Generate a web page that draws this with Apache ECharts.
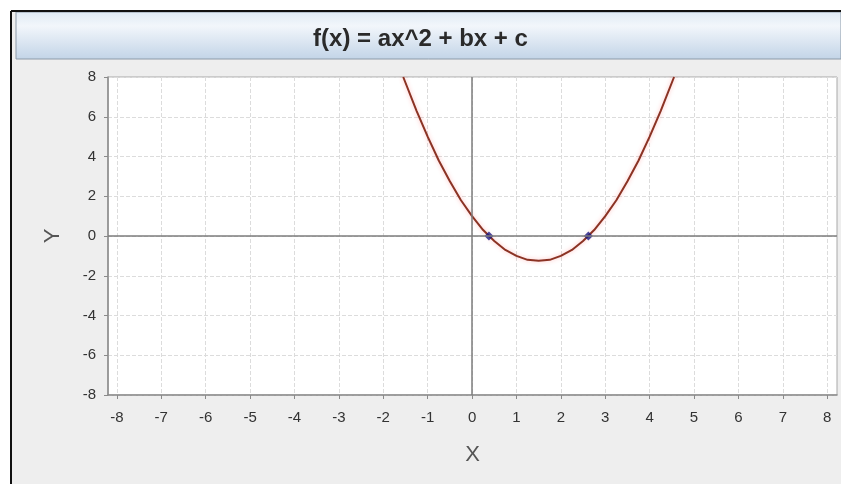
<html>
<head>
  <script src="https://cdn.jsdelivr.net/npm/echarts@6/dist/echarts.min.js"></script>
  <title>f(x) = ax^2 + bx + c</title>
</head>
<body style="margin: 0; background: #fff;">
  <div id="main" style="width: 841px; height: 484px;"></div>
  <script>
    // points
    var curveX = [-1.55, -1.25, -1.0, -0.75, -0.5, -0.25, 0, 0.25, 0.5, 0.75, 1.0, 1.25, 1.5,
                  1.75, 2.0, 2.25, 2.5, 2.75, 3.0, 3.25, 3.5, 3.75, 4.0, 4.25, 4.55];
    var curveY = [8.0, 6.3, 5.0, 3.8, 2.75, 1.8, 1.0, 0.3, -0.25, -0.7, -1.0, -1.2, -1.25,
                  -1.2, -1.0, -0.7, -0.25, 0.3, 1.0, 1.8, 2.75, 3.8, 5.0, 6.3, 8.0];
    var rootX = [0.38, 2.62];
    var rootY = [0, 0];
    var xTicks = [-8, -7, -6, -5, -4, -3, -2, -1, 0, 1, 2, 3, 4, 5, 6, 7, 8];

    var myChart = echarts.init(document.getElementById('main'));

    var curveData = [];
    for (let i = 0; i < curveX.length; ++i) {
      curveData.push([curveX[i], curveY[i]]);
    }
    var rootData = [];
    for (let i = 0; i < rootX.length; ++i) {
      rootData.push([rootX[i], rootY[i]]);
    }

    var labelFont = {color: '#333', fontSize: 15, fontFamily: 'Liberation Sans'};

    var option = {
      animation: false,
      backgroundColor: '#fff',
      graphic: [
        {type: 'rect', z: -10, shape: {x: 11, y: 11, width: 830, height: 473},
         style: {fill: '#eeeeee'}},
        {type: 'rect', z: -9, shape: {x: 16, y: 12, width: 825, height: 47},
         style: {
           fill: new echarts.graphic.LinearGradient(0, 0, 0, 1, [
             {offset: 0, color: '#dfeaf5'},
             {offset: 0.3, color: '#f2f6fb'},
             {offset: 1, color: '#c2d4e7'}
           ]),
           stroke: '#8d9aa8', lineWidth: 1
         }},
        {type: 'line', z: -8, shape: {x1: 11, y1: 11, x2: 11, y2: 484},
         style: {stroke: '#111', lineWidth: 2}},
        {type: 'line', z: -8, shape: {x1: 11, y1: 11, x2: 841, y2: 11},
         style: {stroke: '#111', lineWidth: 2}}
      ],
      title: {
        text: 'f(x) = ax^2 + bx + c',
        left: 'center',
        top: 14,
        textStyle: {color: '#2a2a2a', fontSize: 24, fontWeight: 'bold', fontFamily: 'Liberation Sans'}
      },
      grid: {
        left: 108, right: 4, top: 77, bottom: 89,
        show: true, backgroundColor: '#fff', borderColor: '#a8a8a8', borderWidth: 1
      },
      xAxis: {
        type: 'value',
        min: -8.2, max: 8.22,
        name: 'X',
        nameLocation: 'middle',
        nameGap: 39,
        nameTextStyle: {color: '#555', fontSize: 22, fontFamily: 'Liberation Sans'},
        axisLine: {onZero: false, lineStyle: {color: '#8a8a8a', width: 1.5}},
        axisTick: {customValues: xTicks, length: 4, lineStyle: {color: '#8a8a8a'}},
        axisLabel: Object.assign({customValues: xTicks, margin: 10}, labelFont),
        splitLine: {lineStyle: {color: '#dcdcdc', type: 'dashed'}}
      },
      yAxis: {
        type: 'value',
        min: -8, max: 8, interval: 2,
        name: 'Y',
        nameLocation: 'middle',
        nameGap: 34,
        nameTextStyle: {color: '#555', fontSize: 22, fontFamily: 'Liberation Sans'},
        axisLine: {show: true, onZero: false, lineStyle: {color: '#8a8a8a', width: 1.5}},
        axisTick: {show: true, length: 4, lineStyle: {color: '#8a8a8a'}},
        axisLabel: Object.assign({margin: 12}, labelFont),
        splitLine: {lineStyle: {color: '#dcdcdc', type: 'dashed'}}
      },
      series: [
        {
          type: 'line',
          data: curveData,
          showSymbol: false,
          smooth: false,
          lineStyle: {color: '#8b3324', width: 2, shadowColor: 'rgba(255,110,110,0.45)', shadowBlur: 4},
          markLine: {
            silent: true,
            symbol: 'none',
            label: {show: false},
            lineStyle: {color: '#7d7d7d', width: 1.5, type: 'solid'},
            data: [{xAxis: 0}, {yAxis: 0}]
          },
          z: 3
        },
        {
          type: 'scatter',
          data: rootData,
          symbol: 'diamond',
          symbolSize: 9,
          itemStyle: {color: '#1a1a86'},
          z: 4
        }
      ]
    };

    myChart.setOption(option);
  </script>
</body>
</html>
